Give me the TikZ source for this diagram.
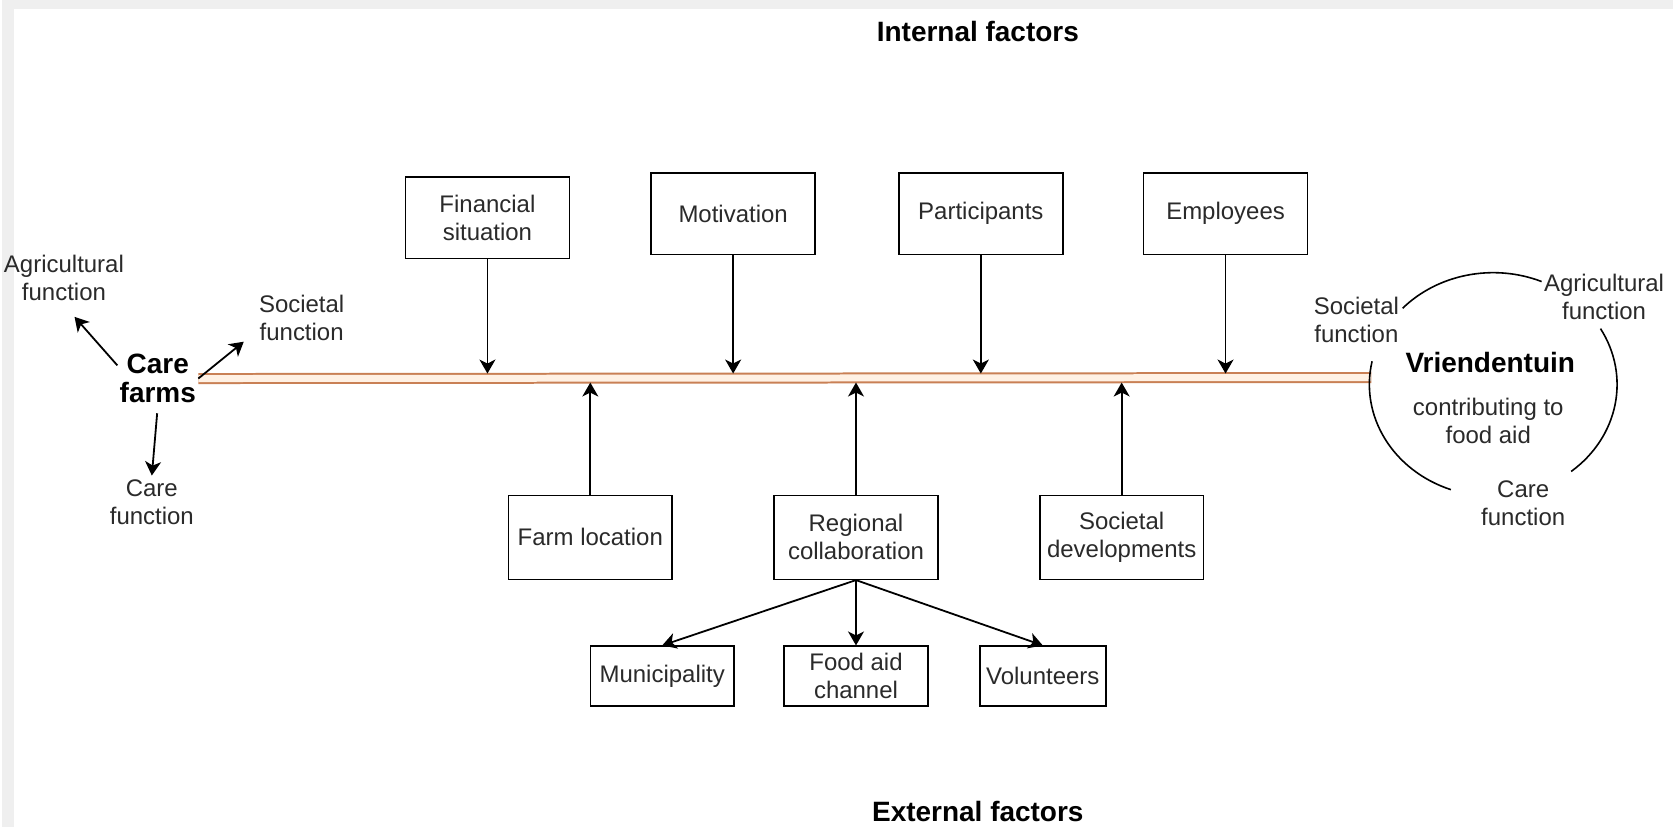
\documentclass[tikz,border=0pt]{standalone}
\usepackage{fontspec}
\setmainfont{Liberation Sans}
\usetikzlibrary{arrows.meta, positioning, calc}
\definecolor{linec}{HTML}{C98055}
\definecolor{linefill}{HTML}{FFF1E4}
\definecolor{bgc}{HTML}{EFEFEF}
\definecolor{txt}{HTML}{2A2A2A}

\begin{document}
\begin{tikzpicture}[x=0.5pt, y=-0.5pt,
    box/.style={draw, line width=0.8pt, minimum width=82pt, minimum height=41pt,
        align=center, inner sep=1pt, text=txt, font=\fontsize{12}{14}\selectfont},
    lbl/.style={align=center, inner sep=2pt, text=txt, font=\fontsize{12}{14}\selectfont},
    hd/.style={align=center, inner sep=1pt, font=\fontsize{14}{14.5}\selectfont\bfseries},
    arr/.style={-{Stealth[length=7pt,width=8pt,inset=2pt]}, line width=0.9pt},
]
        % page and margins
        \fill[bgc] (0,0) rectangle (1673,828);
        \fill[white] (12,9) rectangle (1673,828);

        \node[hd] (inf) at (977,32) {Internal factors};
        \node[hd] (exf) at (977,812) {External factors};

        % main line
        \node[hd] (cf) at (156,379) {Care\\farms};
        \coordinate (ctr) at (1493,385);
        \coordinate (lend) at (1371,378);
        \coordinate (ltop) at (0,374);
        \coordinate (lbot) at (0,383);
        \draw[linec, line width=1pt, double=linefill, double distance=3.5pt] (cf.east) -- (lend);

        % internal factors
        \node[box] (fin) at (486,218) {Financial\\situation};
        \node[box] (mot) at (732,214) {Motivation};
        \node[box] (par) at (980,214) {Participants};
        \node[box] (emp) at (1225,214) {Employees};

        \draw[arr] (fin.south) -- (fin.south |- ltop);
        \draw[arr] (mot.south) -- (mot.south |- ltop);
        \draw[arr] (par.south) -- (par.south |- ltop);
        \draw[arr] (emp.south) -- (emp.south |- ltop);

        % external factors
        \node[box, minimum height=42pt] (loc) at (589,538) {Farm location};
        \node[box, minimum height=42pt] (reg) at (855,538) {Regional\\collaboration};
        \node[box, minimum height=42pt] (soc) at (1121,538) {Societal\\developments};

        \draw[arr] (loc.north) -- (loc.north |- lbot);
        \draw[arr] (reg.north) -- (reg.north |- lbot);
        \draw[arr] (soc.north) -- (soc.north |- lbot);

        \node[box, minimum width=72pt, minimum height=30pt] (mun) at (661,677) {Municipality};
        \node[box, minimum width=72pt, minimum height=30pt] (fac) at (855,677) {Food aid\\channel};
        \node[box, minimum width=63pt, minimum height=30pt] (vol) at (1042,677) {Volunteers};

        \draw[arr] (reg.south) -- (mun.north);
        \draw[arr] (reg.south) -- (fac.north);
        \draw[arr] (reg.south) -- (vol.north);

        % care farm functions
        \node[lbl] (agl) at (62,278) {Agricultural\\function};
        \node[lbl] (sfl) at (300,318) {Societal\\function};
        \node[lbl] (cfl) at (150,503) {Care\\function};

        \draw[arr, shorten >=8pt] (cf.162) -- (agl.south);
        \draw[arr, shorten >=7pt] (cf.east) -- (sfl.198);
        \draw[arr, shorten <=4pt] (cf.south) -- (cfl.north);

        % Vriendentuin
        \node[hd] (vt) at (1490,363) {Vriendentuin};
        \node[lbl] (vtc) at (1488,421) {contributing to\\food aid};
        \node[lbl] (sfr) at (1356,320) {Societal\\function};
        \node[lbl] (afr) at (1604,297) {Agricultural\\function};
        \node[lbl] (cfr) at (1523,504) {Care\\function};

        \draw[line width=0.8pt] (ctr) ++(-67:124 and 112) arc[start angle=-67, end angle=-137, x radius=124, y radius=112];
        \draw[line width=0.8pt] (ctr) ++(51:124 and 112) arc[start angle=51, end angle=-30, x radius=124, y radius=112];
        \draw[line width=0.8pt] (ctr) ++(-168:124 and 112) arc[start angle=-168, end angle=-250, x radius=124, y radius=112];
\end{tikzpicture}
\end{document}
